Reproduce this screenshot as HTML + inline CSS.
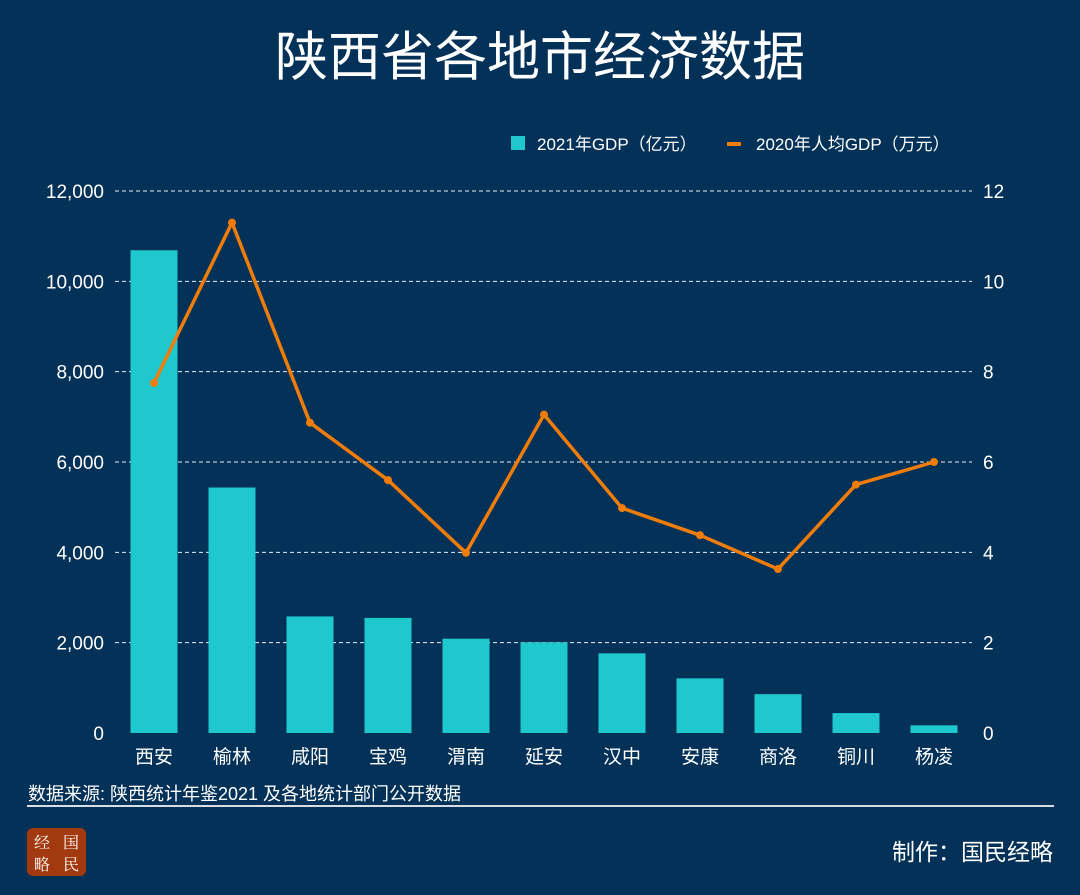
<!DOCTYPE html>
<html><head><meta charset="utf-8"><style>
body{margin:0;background:#043157;width:1080px;height:895px;overflow:hidden;font-family:"Liberation Sans","Noto Sans CJK SC",sans-serif;}
</style></head><body>
<svg id="chart" width="1080" height="895" xmlns="http://www.w3.org/2000/svg" style="display:block">
<rect width="1080" height="895" fill="#043157"/>
<text x="540" y="75" text-anchor="middle" fill="#fff" font-size="53" font-family="Noto Sans CJK SC,sans-serif">陕西省各地市经济数据</text>
<g>
<rect x="511" y="136" width="14" height="14" fill="#1ec8cc"/>
<text x="537" y="150" fill="#fff" font-size="17" font-family="Liberation Sans,Noto Sans CJK SC,sans-serif">2021年GDP（亿元）</text>
<rect x="727" y="142" width="14" height="4" fill="#f07d0a"/>
<text x="756" y="150" fill="#fff" font-size="17" font-family="Liberation Sans,Noto Sans CJK SC,sans-serif">2020年人均GDP（万元）</text>
</g>
<g id="plot"></g>
<text x="28" y="800" fill="#fff" font-size="18" font-family="Liberation Sans,Noto Sans CJK SC,sans-serif">数据来源: 陕西统计年鉴2021 及各地统计部门公开数据</text>
<rect x="27" y="805" width="1027" height="2" fill="#d8dde3"/>
<g>
<rect x="27" y="828" width="59" height="48" rx="6" fill="#a3390f"/>
<text x="42" y="848" fill="#fff" font-size="16" text-anchor="middle" font-family="Noto Serif CJK SC,serif">经</text>
<text x="71" y="848" fill="#fff" font-size="16" text-anchor="middle" font-family="Noto Serif CJK SC,serif">国</text>
<text x="42" y="870" fill="#fff" font-size="16" text-anchor="middle" font-family="Noto Serif CJK SC,serif">略</text>
<text x="71" y="870" fill="#fff" font-size="16" text-anchor="middle" font-family="Noto Serif CJK SC,serif">民</text>
</g>
<text x="1053" y="860" text-anchor="end" fill="#fff" font-size="23" font-family="Liberation Sans,Noto Sans CJK SC,sans-serif">制作：国民经略</text>
</svg>
<script>
const categories=["西安","榆林","咸阳","宝鸡","渭南","延安","汉中","安康","商洛","铜川","杨凌"];
const gdpValues=[10688,5435,2581,2548,2088,2008,1764,1210,860,441,170];
const perCapitaValues=[7.75,11.3,6.87,5.6,3.99,7.05,4.98,4.38,3.63,5.5,6.0];
const leftTicks=[0,2000,4000,6000,8000,10000,12000];
const rightTicks=[0,2,4,6,8,10,12];
const NS="http://www.w3.org/2000/svg";
const plot=document.getElementById("plot");
const y0=733,yTop=191,x0=115,xStep=78,xStart=154,barW=47;
const yL=v=>y0-(v/12000)*(y0-yTop);
const yR=v=>y0-(v/12)*(y0-yTop);
const xC=i=>xStart+i*xStep;
function mk(t,a){const e=document.createElementNS(NS,t);for(const k in a)e.setAttribute(k,a[k]);plot.appendChild(e);return e;}
leftTicks.forEach((t,i)=>{
 if(t>0){const g=mk("line",{x1:x0,x2:972,y1:yL(t),y2:yL(t),stroke:"#e8eef4","stroke-width":1,"stroke-dasharray":"4,3"});
 
 }
 const l=mk("text",{x:104,y:yL(t)+7,"text-anchor":"end",fill:"#fff","font-size":19});
 l.textContent=t.toLocaleString("en-US");
 
 
});
rightTicks.forEach(t=>{
 const l=mk("text",{x:983,y:yR(t)+7,fill:"#fff","font-size":19});
 l.textContent=t;
 
 
});
categories.forEach((c,i)=>{
 const b=mk("rect",{x:xC(i)-barW/2,y:yL(gdpValues[i]),width:barW,height:y0-yL(gdpValues[i]),fill:"#1ec8cc"});
 
 
 const l=mk("text",{x:xC(i),y:763,"text-anchor":"middle",fill:"#fff","font-size":19,"font-family":"Noto Sans CJK SC,sans-serif"});
 l.textContent=c;
 
 
});
const ln=mk("polyline",{points:perCapitaValues.map((v,i)=>xC(i)+","+yR(v)).join(" "),fill:"none",stroke:"#f07d0a","stroke-width":3.5,"stroke-linejoin":"round"});


perCapitaValues.forEach((v,i)=>{
 const p=mk("circle",{cx:xC(i),cy:yR(v),r:4,fill:"#f07d0a"});
 
 
});
</script>
</body></html>
